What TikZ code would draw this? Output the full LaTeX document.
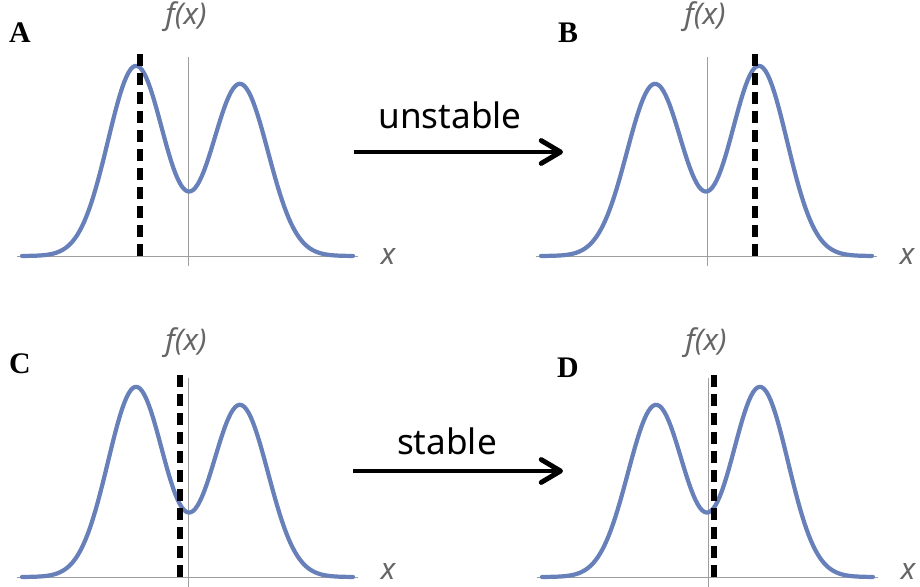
\documentclass[tikz,border=0pt]{standalone}
\usepackage{fontspec}
\setmainfont{Liberation Serif}
\setsansfont{Noto Sans}
\usetikzlibrary{arrows.meta}
\definecolor{curveblue}{RGB}{103,128,185}
\definecolor{axisgray}{gray}{0.62}
\definecolor{labgray}{gray}{0.40}

\begin{document}
\begin{tikzpicture}[
  x=0.02cm, y=0.02cm,
  declare function={gauss(\t,\m)=exp(-((\t-\m)/39.6)*((\t-\m)/39.6));
                    dbl(\t,\a,\b)=\a*gauss(\t,-52)+\b*gauss(\t,52);},
  axis/.style={draw=axisgray, line width=.5pt},
  curve/.style={draw=curveblue, line width=2.4pt, line join=round, line cap=round},
  probe/.style={draw=black, line width=3.4pt, dash pattern=on 6.8pt off 4pt},
  flab/.style={font=\sffamily\itshape\fontsize{17}{17}\selectfont, text=labgray},
  xlab/.style={flab, inner sep=0pt},
  tag/.style={font=\bfseries\fontsize{17}{17}\selectfont},
  move/.style={font=\sffamily\fontsize{20}{20}\selectfont},
  ar/.style={-{Straight Barb[length=11pt, width=13pt, round]}, line width=2.8pt},
]
\useasboundingbox (0,0) rectangle (920,586);

\begin{scope}[shift={(188,330)}]
\draw[axis] (-171,0) -- (170,0);
\draw[axis] (0,-10) -- (0,199);
\draw[curve] plot[domain=-166:165, samples=150] (\x,{dbl(\x,190,172)});
\draw[probe] (-48,0) -- (-48,204);
\node[flab] (fA) at (-2,239) {f(x)};
\node[xlab] (xA) at (200,0) {x};
\node[tag]  (A)  at (-168,223) {A};
\end{scope}

\begin{scope}[shift={(707,330)}]
\draw[axis] (-171,0) -- (170,0);
\draw[axis] (0,-10) -- (0,199);
\draw[curve] plot[domain=-166:165, samples=150] (\x,{dbl(\x,172,190)});
\draw[probe] (48,0) -- (48,204);
\node[flab] (fB) at (-2,239) {f(x)};
\node[xlab] (xB) at (200,0) {x};
\node[tag]  (B)  at (-139,223) {B};
\end{scope}

\begin{scope}[shift={(188,9)}]
\draw[axis] (-171,0) -- (170,0);
\draw[axis] (0,-10) -- (0,199);
\draw[curve] plot[domain=-166:165, samples=150] (\x,{dbl(\x,190,172)});
\draw[probe] (-8,0) -- (-8,204);
\node[flab] (fC) at (-2,234) {f(x)};
\node[xlab] (xC) at (200,6) {x};
\node[tag]  (C)  at (-168,213) {C};
\end{scope}

\begin{scope}[shift={(708,9)}]
\draw[axis] (-171,0) -- (170,0);
\draw[axis] (0,-10) -- (0,199);
\draw[curve] plot[domain=-166:165, samples=150] (\x,{dbl(\x,172,190)});
\draw[probe] (6,0) -- (6,204);
\node[flab] (fD) at (-2,234) {f(x)};
\node[xlab] (xD) at (200,6) {x};
\node[tag]  (D)  at (-140,209) {D};
\end{scope}

\coordinate (u0) at (354,434);
\coordinate (u1) at (563,434);
\coordinate (s0) at (353,115);
\coordinate (s1) at (563,115);
\draw[ar] (u0) -- (u1);
\draw[ar] (s0) -- (s1);
\node[move] (unst) at (450,471) {unstable};
\node[move] (stab) at (447,145) {stable};
\end{tikzpicture}
\end{document}
